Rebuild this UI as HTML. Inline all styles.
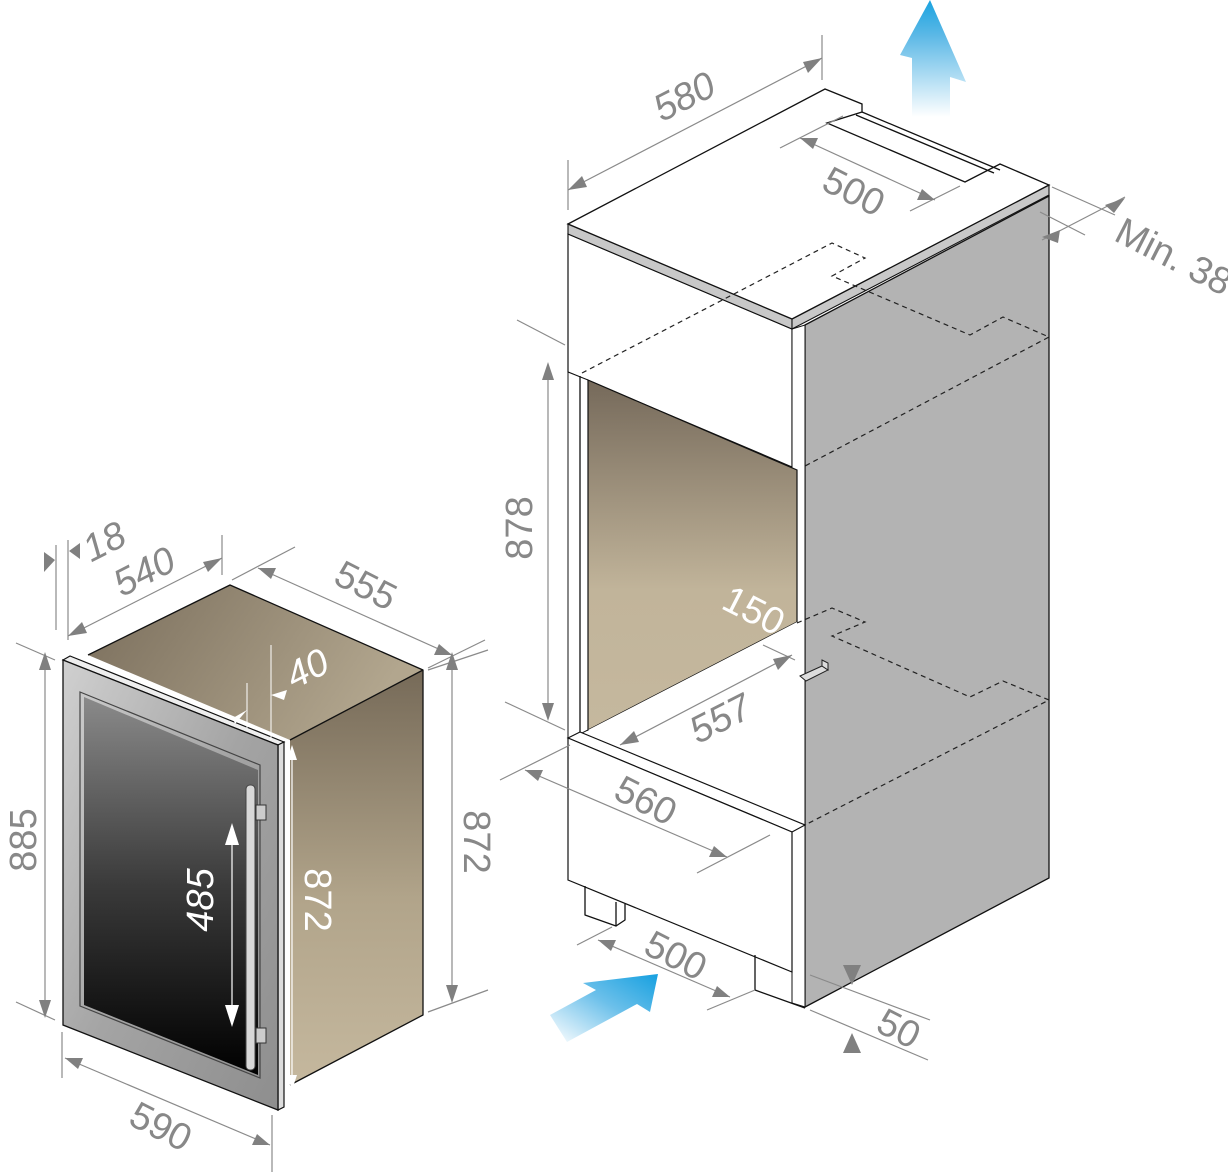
<!DOCTYPE html>
<html><head><meta charset="utf-8"><style>
html,body{margin:0;padding:0;background:#fff}
svg{display:block}
.d{font-family:"Liberation Sans Narrow","Liberation Sans",sans-serif;font-size:38px;fill:#888}
.w{font-family:"Liberation Sans Narrow","Liberation Sans",sans-serif;font-size:38px;fill:#fff}
.dl{stroke:#8a8a8a;stroke-width:1.2;fill:none}
.k{stroke:#111;stroke-width:1.3;fill:none;stroke-linejoin:round}
.ds{stroke:#222;stroke-width:1.2;fill:none;stroke-dasharray:5 4}
.ah{fill:#808080}
</style></head><body>
<svg width="1228" height="1175" viewBox="0 0 1228 1175" xmlns="http://www.w3.org/2000/svg">
<defs>
<linearGradient id="brownTop" x1="0" y1="0" x2="1" y2="0.3"><stop offset="0" stop-color="#7a6e5c"/><stop offset="1" stop-color="#b2a68e"/></linearGradient>
<linearGradient id="brownV" x1="0" y1="0" x2="0" y2="1"><stop offset="0" stop-color="#766a58"/><stop offset="0.55" stop-color="#b1a48a"/><stop offset="1" stop-color="#c5b89e"/></linearGradient>
<linearGradient id="cav" x1="0" y1="0" x2="0" y2="1"><stop offset="0" stop-color="#75695a"/><stop offset="0.6" stop-color="#c1b49a"/><stop offset="1" stop-color="#c5b89e"/></linearGradient>
<linearGradient id="steel" x1="0" y1="0" x2="1" y2="1"><stop offset="0" stop-color="#d0d0d0"/><stop offset="0.5" stop-color="#a4a4a4"/><stop offset="1" stop-color="#8e8e8e"/></linearGradient>
<linearGradient id="glass" x1="0" y1="0" x2="0" y2="1"><stop offset="0" stop-color="#8a8a8a"/><stop offset="0.5" stop-color="#3a3a3a"/><stop offset="1" stop-color="#000"/></linearGradient>
<linearGradient id="blueUp" x1="0" y1="1" x2="0" y2="0"><stop offset="0" stop-color="#fff"/><stop offset="0.7" stop-color="#5bb8e6"/><stop offset="1" stop-color="#1aa3e0"/></linearGradient>
<linearGradient id="blueR" x1="0" y1="1" x2="1" y2="0"><stop offset="0" stop-color="#fff"/><stop offset="0.55" stop-color="#6cc0ea"/><stop offset="1" stop-color="#16a0e0"/></linearGradient>
</defs>

<!-- ============ LEFT UNIT ============ -->
<polygon points="88,655 230,585 423,670 290,740" fill="url(#brownTop)"/>
<polygon points="290,740 423,670 423,1015 290,1085" fill="url(#brownV)"/>
<polyline class="k" points="88,655 230,585 423,670 423,1015 290,1085"/>
<line class="k" x1="290" y1="740" x2="423" y2="670"/>
<polygon points="63,660 70,656 284,742 278,745" fill="#eee" stroke="#111" stroke-width="1.2"/>
<polygon points="278,745 284,742 284,1107 278,1110" fill="#ddd" stroke="#111" stroke-width="1.2"/>
<polygon points="63,660 278,745 278,1110 63,1025" fill="url(#steel)" stroke="#111" stroke-width="1.3"/>
<polygon points="80,692 260,765 260,1078 80,1006" fill="none" stroke="#444" stroke-width="1.2"/>
<polygon points="84,697 258,770 258,1075 84,1005" fill="url(#glass)"/>
<rect x="256" y="805" width="10" height="15" fill="#ccc" stroke="#333"/>
<rect x="256" y="1028" width="10" height="15" fill="#ccc" stroke="#333"/>
<rect x="246" y="785" width="9" height="285" rx="4" fill="#d8d8d8" stroke="#444"/>
<line x1="292" y1="752" x2="292" y2="1083" stroke="#fff" stroke-width="1.2"/>
<polygon points="292,745 287,760 297,760" fill="#fff"/>
<polygon points="292,1090 287,1075 297,1075" fill="#fff"/>
<text class="w" transform="translate(305,900) rotate(90)" text-anchor="middle">872</text>
<line x1="232" y1="830" x2="232" y2="1020" stroke="#fff" stroke-width="1.2"/>
<polygon points="232,823 225,845 239,845" fill="#fff"/>
<polygon points="232,1027 225,1005 239,1005" fill="#fff"/>
<text class="w" font-style="italic" transform="translate(213,900) rotate(-90)" text-anchor="middle">485</text>
<line x1="247" y1="683" x2="247" y2="728" stroke="#fff" stroke-width="1"/>
<line x1="271" y1="645" x2="271" y2="740" stroke="#fff" stroke-width="1"/>
<polygon points="247,710 233,718 235,724" fill="#fff"/>
<polygon points="271,695 287,690 284,700" fill="#fff"/>
<text class="w" font-style="italic" transform="translate(313,680) rotate(-27)" text-anchor="middle">40</text>
<line class="dl" x1="56" y1="545" x2="56" y2="630"/>
<line class="dl" x1="68" y1="540" x2="68" y2="640"/>
<polygon class="ah" points="55,560 44,552 44,572"/>
<polygon class="ah" points="69,551 80,543 80,559"/>
<text class="d" font-style="italic" transform="translate(110,553) rotate(-27)" text-anchor="middle">18</text>
<line class="dl" x1="68" y1="636" x2="222" y2="558"/>
<line class="dl" x1="222" y1="535" x2="222" y2="575"/>
<polygon class="ah" points="68,636 82,622 87,633"/>
<polygon class="ah" points="222,558 203,562 208,572"/>
<text class="d" font-style="italic" transform="translate(150,583) rotate(-27)" text-anchor="middle">540</text>
<line class="dl" x1="232" y1="580" x2="295" y2="547"/>
<line class="dl" x1="258" y1="568" x2="452" y2="655"/>
<line class="dl" x1="428" y1="668" x2="485" y2="640"/>
<polygon class="ah" points="258,568 276,568 271,579"/>
<polygon class="ah" points="452,655 434,655 439,644"/>
<text class="d" transform="translate(360,597) rotate(27)" text-anchor="middle">555</text>
<line class="dl" x1="16" y1="643" x2="55" y2="660"/>
<line class="dl" x1="16" y1="1002" x2="55" y2="1020"/>
<line class="dl" x1="45" y1="655" x2="45" y2="1015"/>
<polygon class="ah" points="45,652 39,670 51,670"/>
<polygon class="ah" points="45,1018 39,1000 51,1000"/>
<text class="d" transform="translate(36,840) rotate(-90)" text-anchor="middle">885</text>
<line class="dl" x1="428" y1="670" x2="488" y2="650"/>
<line class="dl" x1="428" y1="1012" x2="488" y2="990"/>
<line class="dl" x1="452" y1="655" x2="452" y2="1000"/>
<polygon class="ah" points="452,652 446,670 458,670"/>
<polygon class="ah" points="452,1003 446,985 458,985"/>
<text class="d" transform="translate(464,842) rotate(90)" text-anchor="middle">872</text>
<line class="dl" x1="62" y1="1032" x2="62" y2="1078"/>
<line class="dl" x1="272" y1="1115" x2="272" y2="1172"/>
<line class="dl" x1="65" y1="1058" x2="270" y2="1145"/>
<polygon class="ah" points="65,1058 83,1058 78,1069"/>
<polygon class="ah" points="270,1145 252,1145 257,1134"/>
<text class="d" transform="translate(155,1138) rotate(27)" text-anchor="middle">590</text>

<!-- ============ RIGHT CABINET ============ -->
<polygon points="805,325 1049,196 1049,878 805,1007" fill="#b3b3b3" stroke="#111" stroke-width="1.3"/>
<polygon points="568,234 792,329 792,467 568,372" fill="#fff" stroke="#111" stroke-width="1.2"/>
<polygon points="792,329 805,325 805,1007 792,1003" fill="#fff" stroke="#111" stroke-width="1"/>
<polygon points="568,372 588,380 588,730 568,740" fill="#fff" stroke="#111" stroke-width="1"/>
<line class="k" x1="580" y1="376" x2="580" y2="735"/>
<polygon points="588,380 797,470 797,622 588,730" fill="url(#cav)" stroke="#111" stroke-width="1.2"/>
<polygon points="588,730 797,622 797,825 620,740" fill="#fff"/>
<polygon points="568,738 580,732 805,825 792,832" fill="#fff" stroke="#111" stroke-width="1.2"/>
<polygon points="568,738 792,832 792,972 568,880" fill="#fff" stroke="#111" stroke-width="1.2"/>
<polyline class="k" points="585,886 585,915 616,926 616,902"/>
<polyline class="k" points="616,926 625,920 625,904"/>
<polyline class="k" points="755,955 755,990 805,1008"/>
<polygon points="568,224 792,319 792,329 568,234" fill="#c8c8c8" stroke="#111" stroke-width="1.1"/>
<polygon points="792,319 1049,185 1049,195 792,329" fill="#c8c8c8" stroke="#111" stroke-width="1.1"/>
<polygon points="568,224 825,89 862,104 862,112 827,123 965,182 1000,164 1049,185 792,319" fill="#fff" stroke="#111" stroke-width="1.3"/>
<line class="k" x1="862" y1="112" x2="1000" y2="170"/>
<line class="k" x1="856" y1="115" x2="994" y2="173"/>
<polyline class="ds" points="582,373 832,243 865,258 832,276 970,335 1003,317 1049,337 805,466"/>
<polyline class="ds" points="797,623 832,608 865,622 832,636 970,697 1003,681 1049,700 805,825"/>
<polygon points="800,676 822,666 828,670 806,681" fill="#ddd" stroke="#222" stroke-width="1"/>
<polygon points="822,660 828,663 828,670 822,666" fill="#ddd" stroke="#222" stroke-width="1"/>
<line class="dl" x1="568" y1="160" x2="568" y2="210"/>
<line class="dl" x1="822" y1="35" x2="822" y2="80"/>
<line class="dl" x1="568" y1="190" x2="822" y2="58"/>
<polygon class="ah" points="568,190 582,176 587,187"/>
<polygon class="ah" points="822,58 803,62 808,73"/>
<text class="d" font-style="italic" transform="translate(690,108) rotate(-27)" text-anchor="middle">580</text>
<line class="dl" x1="780" y1="148" x2="843" y2="116"/>
<line class="dl" x1="910" y1="211" x2="960" y2="186"/>
<line class="dl" x1="800" y1="138" x2="935" y2="200"/>
<polygon class="ah" points="800,138 818,138 813,149"/>
<polygon class="ah" points="935,200 917,200 922,189"/>
<text class="d" transform="translate(848,203) rotate(27)" text-anchor="middle">500</text>
<line class="dl" x1="1052" y1="187" x2="1115" y2="215"/>
<line class="dl" x1="1040" y1="212" x2="1085" y2="235"/>
<line class="dl" x1="1042" y1="240" x2="1125" y2="197"/>
<polygon class="ah" points="1105,205 1125,198 1114,213"/>
<polygon class="ah" points="1060,230 1042,237 1058,243"/>
<text class="d" transform="translate(1168,268) rotate(27)" text-anchor="middle">Min. 38</text>
<line class="dl" x1="517" y1="320" x2="565" y2="345"/>
<line class="dl" x1="505" y1="702" x2="565" y2="730"/>
<line class="dl" x1="548" y1="365" x2="548" y2="718"/>
<polygon class="ah" points="548,362 542,380 554,380"/>
<polygon class="ah" points="548,721 542,703 554,703"/>
<text class="d" transform="translate(532,528) rotate(-90)" text-anchor="middle">878</text>
<text class="w" transform="translate(748,622) rotate(27)" text-anchor="middle">150</text>
<line class="dl" x1="763" y1="645" x2="795" y2="660"/>
<line class="dl" x1="620" y1="745" x2="792" y2="655"/>
<polygon class="ah" points="620,745 634,731 639,742"/>
<polygon class="ah" points="792,655 773,659 778,670"/>
<text class="d" font-style="italic" transform="translate(726,730) rotate(-27)" text-anchor="middle">557</text>
<line class="dl" x1="500" y1="780" x2="570" y2="745"/>
<line class="dl" x1="697" y1="873" x2="770" y2="835"/>
<line class="dl" x1="525" y1="770" x2="727" y2="857"/>
<polygon class="ah" points="525,770 543,770 538,781"/>
<polygon class="ah" points="727,857 709,857 714,846"/>
<text class="d" transform="translate(640,812) rotate(27)" text-anchor="middle">560</text>
<line class="dl" x1="577" y1="945" x2="612" y2="927"/>
<line class="dl" x1="707" y1="1010" x2="755" y2="990"/>
<line class="dl" x1="598" y1="940" x2="730" y2="997"/>
<polygon class="ah" points="598,940 616,940 611,951"/>
<polygon class="ah" points="730,997 712,997 717,986"/>
<text class="d" transform="translate(670,967) rotate(27)" text-anchor="middle">500</text>
<line class="dl" x1="810" y1="975" x2="930" y2="1020"/>
<line class="dl" x1="810" y1="1010" x2="928" y2="1060"/>
<polygon class="ah" points="852,985 843,965 861,965"/>
<polygon class="ah" points="852,1033 843,1053 861,1053"/>
<text class="d" transform="translate(893,1040) rotate(27)" text-anchor="middle">50</text>
<polygon points="930,0 966,82 950,77 950,117 912,117 912,58 900,55" fill="url(#blueUp)"/>
<polygon points="658,974 650,1012 637,1004 567,1042 550,1015 596,990 583,983" fill="url(#blueR)"/>
</svg>
</body></html>
